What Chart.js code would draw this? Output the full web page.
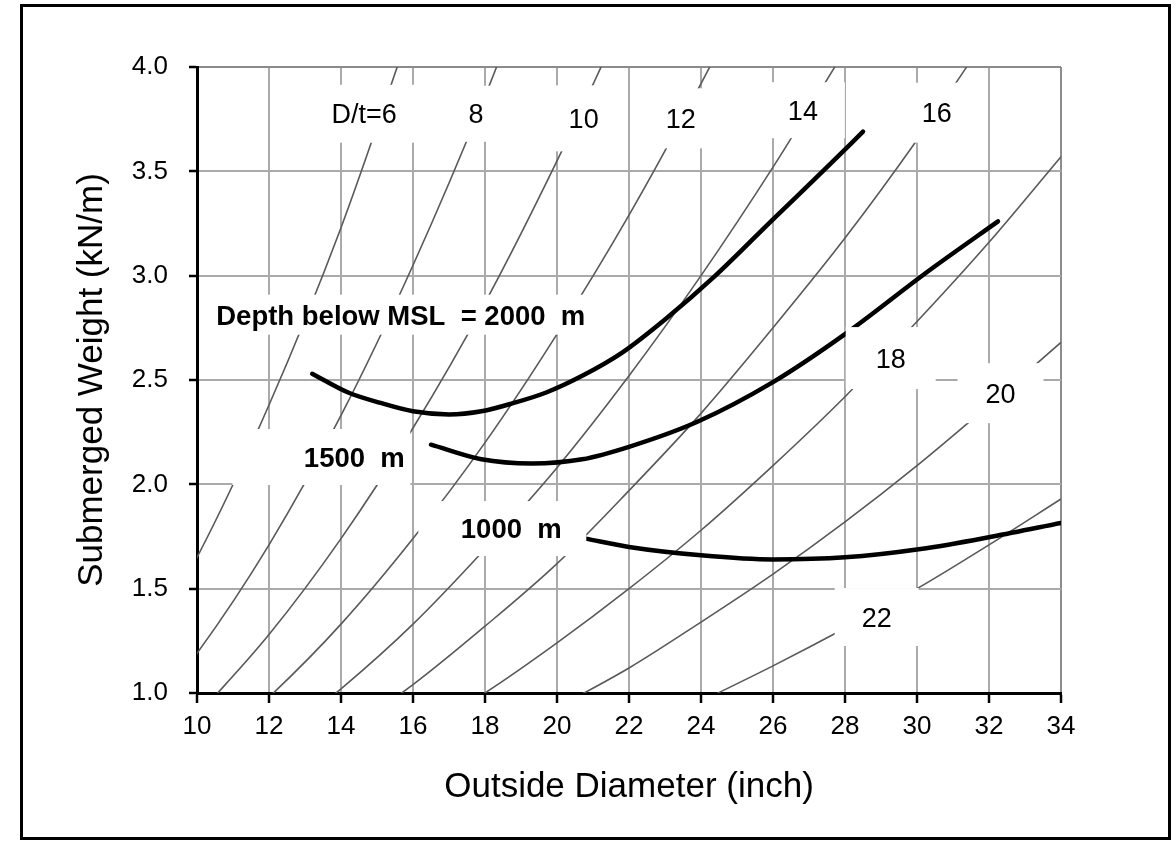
<!DOCTYPE html>
<html>
<head>
<meta charset="utf-8">
<script src="https://cdn.jsdelivr.net/npm/chart.js@4"></script>
<style>
  html, body { margin: 0; padding: 0; background: #fff; }
  #wrap { width: 1176px; height: 862px; }
</style>
</head>
<body>
<div id="wrap"><canvas id="chart" width="1176" height="862"></canvas></div>
<script>
// Outside diameter (inch) at which the D/t curves are read
const diameters = [8, 10, 12, 14, 16, 18, 20, 22, 24, 26, 28, 30, 32, 34];

// Submerged weight (kN/m) of each D/t curve, read at the diameters above
const weightDt6 = [1.06, 1.65, 2.38, 3.23, 4.22, null, null, null, null, null, null, null, null, null];
const weightDt8 = [0.76, 1.19, 1.71, 2.33, 3.05, 3.86, 4.76, null, null, null, null, null, null, null];
const weightDt10 = [null, 0.89, 1.28, 1.74, 2.27, 2.87, 3.55, 4.29, null, null, null, null, null, null];
const weightDt12 = [null, 0.68, 0.98, 1.33, 1.74, 2.20, 2.72, 3.29, 3.92, 4.60, null, null, null, null];
const weightDt14 = [null, null, 0.75, 1.02, 1.33, 1.69, 2.08, 2.52, 3.00, 3.52, 4.08, null, null, null];
const weightDt16 = [null, null, null, 0.80, 1.04, 1.32, 1.62, 1.97, 2.34, 2.75, 3.18, 3.65, 4.16, null];
const weightDt18 = [null, null, null, null, 0.79, 1.00, 1.24, 1.50, 1.78, 2.09, 2.42, 2.78, 3.16, 3.57];
const weightDt20 = [null, null, null, null, null, null, 0.93, 1.12, 1.34, 1.57, 1.82, 2.09, 2.38, 2.68];
const weightDt22 = [null, null, null, null, null, null, null, null, 0.96, 1.13, 1.31, 1.50, 1.71, 1.93];

// Water depth curves
const depth2000X = [13.2, 14.2, 15.1, 16.0, 17.0, 17.9, 18.8, 19.7, 20.7, 21.8, 23.0, 24.4, 26.0, 27.5, 28.5];
const depth2000Y = [2.53, 2.44, 2.39, 2.35, 2.335, 2.35, 2.39, 2.44, 2.52, 2.63, 2.79, 3.00, 3.27, 3.52, 3.69];
const depth1500X = [16.5, 17.9, 19.3, 20.7, 22.0, 23.9, 26.0, 28.0, 30.3, 32.25];
const depth1500Y = [2.19, 2.12, 2.10, 2.12, 2.18, 2.30, 2.49, 2.72, 3.02, 3.26];
const depth1000X = [20.8, 22.0, 24.0, 26.0, 28.0, 30.1, 32.1, 34.0];
const depth1000Y = [1.74, 1.70, 1.66, 1.64, 1.65, 1.69, 1.75, 1.815];

// Curve labels: text and anchor in data units
const labelTexts = ['D/t=6', '8', '10', '12', '14', '16', '18', '20', '22', 'Depth below MSL  = 2000  m', '1500  m', '1000  m'];
const labelX = [14.64, 17.75, 20.74, 23.44, 26.83, 30.55, 29.27, 32.32, 28.88, 15.66, 14.37, 18.73];
const labelY = [3.776, 3.776, 3.754, 3.754, 3.793, 3.781, 2.605, 2.437, 1.364, 2.813, 2.131, 1.788];

const FONT = "'Liberation Sans', Arial, sans-serif";

const toPoints = ( xs, ys ) => xs.map( ( x, i ) => ( { x, y: ys[ i ] } ) );

const dtSeries = [ weightDt6, weightDt8, weightDt10, weightDt12, weightDt14, weightDt16, weightDt18, weightDt20, weightDt22 ];

const depthDataset = ( label, xs, ys ) => ( {
	label,
	data: toPoints( xs, ys ),
	borderColor: '#000',
	borderWidth: 4.5,
	pointRadius: 0,
	cubicInterpolationMode: 'monotone',
	borderCapStyle: 'round',
} );

const datasets = [
	depthDataset( '2000 m', depth2000X, depth2000Y ),
	depthDataset( '1500 m', depth1500X, depth1500Y ),
	depthDataset( '1000 m', depth1000X, depth1000Y ),
	...dtSeries.map( ( ys, i ) => ( {
		label: 'D/t=' + ( 6 + i * 2 ),
		data: toPoints( diameters, ys ),
		borderColor: '#595959',
		borderWidth: 1.6,
		pointRadius: 0,
		cubicInterpolationMode: 'monotone',
	} ) ),
];

// White label boxes (px): size and horizontal shift from the text centre
const boxW = [ 122, 56, 84, 84, 84, 84, 90, 86, 84, 392, 178, 168 ];
const boxH = [ 58, 56, 66, 60, 56, 60, 62, 60, 58, 40, 56, 55 ];
const boxDX = [ 0, 0, 0, 0, 0, 0, 0, 0, 0, 0, -33, -9 ];

const curveLabels = {
	id: 'curveLabels',
	afterDatasetsDraw( chart ) {
		const { ctx, scales } = chart;
		ctx.save();
		labelTexts.forEach( ( text, i ) => {
			const cx = scales.x.getPixelForValue( labelX[ i ] );
			const cy = scales.y.getPixelForValue( labelY[ i ] );
			const bold = i >= 9;
			const size = bold ? 27.5 : 27;
			ctx.fillStyle = '#fff';
			ctx.fillRect( cx + boxDX[ i ] - boxW[ i ] / 2, cy - boxH[ i ] / 2, boxW[ i ], boxH[ i ] );
			ctx.font = ( bold ? 'bold ' : '' ) + size + 'px ' + FONT;
			ctx.fillStyle = '#000';
			ctx.textAlign = 'center';
			ctx.textBaseline = 'alphabetic';
			ctx.fillText( text, cx, cy + 0.358 * size );
		} );
		ctx.restore();
	},
};

const frame = {
	id: 'frame',
	afterDraw( chart ) {
		const { ctx, chartArea } = chart;
		const mid = ( chartArea.left + chartArea.right ) / 2;
		const midY = ( chartArea.top + chartArea.bottom ) / 2;
		ctx.save();
		ctx.strokeStyle = '#000';
		ctx.lineWidth = 3;
		ctx.strokeRect( 21.5, 5.5, 1148, 833 );

		ctx.fillStyle = '#000';
		ctx.font = '35px ' + FONT;
		ctx.textAlign = 'center';
		ctx.textBaseline = 'alphabetic';
		ctx.fillText( 'Outside Diameter (inch)', mid, 797 );

		ctx.translate( 102, midY );
		ctx.rotate( -Math.PI / 2 );
		ctx.fillText( 'Submerged Weight (kN/m)', 0, 0 );
		ctx.restore();
	},
};

new Chart( document.getElementById( 'chart' ), {
	type: 'line',
	data: { datasets },
	options: {
		responsive: false,
		animation: false,
		devicePixelRatio: 1,
		layout: { padding: { top: 67, right: 115, bottom: 0, left: 0 } },
		plugins: {
			legend: { display: false },
			tooltip: { enabled: false },
		},
		scales: {
			x: {
				type: 'linear',
				min: 10,
				max: 34,
				afterFit: ( s ) => { s.height = 169; },
				ticks: {
					stepSize: 2,
					padding: 8,
					color: '#000',
					font: { family: FONT, size: 26 },
				},
				grid: {
					color: ( c ) => ( c.tick && c.tick.value === 34 ? '#8c8c8c' : '#aaaaaa' ),
					lineWidth: 2,
					tickLength: 10,
					tickColor: '#000',
					tickWidth: 2.5,
				},
				border: { color: '#000', width: 3 },
			},
			y: {
				min: 1,
				max: 4,
				afterFit: ( s ) => { s.width = 197; },
				ticks: {
					stepSize: 0.5,
					padding: 21,
					color: '#000',
					font: { family: FONT, size: 26 },
					callback: ( v ) => v.toFixed( 1 ),
				},
				grid: {
					color: ( c ) => ( c.tick && c.tick.value === 4 ? '#8c8c8c' : '#aaaaaa' ),
					lineWidth: 2,
					tickLength: 8,
					tickColor: '#000',
					tickWidth: 2.5,
				},
				border: { color: '#000', width: 3 },
			},
		},
	},
	plugins: [ curveLabels, frame ],
} );
</script>
</body>
</html>
